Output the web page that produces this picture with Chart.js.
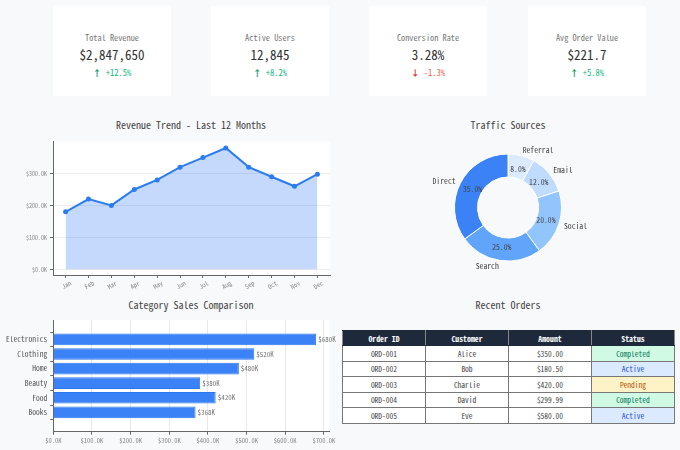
<!DOCTYPE html>
<html>
<head>
<meta charset="utf-8">
<script src="https://cdn.jsdelivr.net/npm/chart.js@4.4.1/dist/chart.umd.min.js"></script>
<style>
  body {
    margin: 0;
    width: 680px;
    height: 450px;
    position: relative;
    overflow: hidden;
    background: #f8f9fa;
    font-family: "Noto Sans Mono CJK SC", "DejaVu Sans Mono", monospace;
  }
  .card {
    position: absolute;
    top: 6px;
    width: 118px;
    height: 90px;
    background: #fff;
    text-align: center;
  }
  .card div { position: absolute; left: 0; right: 0; line-height: 1; white-space: nowrap; }
  .card .label { top: 27px; font-size: 8.3px; color: #777; }
  .card .value { top: 42px; font-size: 13px; color: #333; }
  .card .change { top: 62px; font-size: 8.5px; }
  .up { color: #10b981; }
  .up b { color: #059669; }
  .down { color: #e8644a; }
  .down b { color: #dc2626; }
  .title {
    position: absolute;
    width: 300px;
    text-align: center;
    font-size: 10px;
    line-height: 10px;
    color: #444;
  }
  canvas { position: absolute; }
  #orders {
    position: absolute;
    left: 342px;
    top: 330px;
    width: 333px;
    border-collapse: collapse;
    table-layout: fixed;
    font-size: 7.5px;
    text-align: center;
    background: #fff;
  }
  #orders th, #orders td { border: 1px solid #777; padding: 0; }
  #orders th { height: 14px; background: #1e293b; color: #fff; font-weight: bold; font-size: 7.8px; border-color: #1e293b #888; }
  #orders td { height: 14.5px; color: #444; }
</style>
</head>
<body>

<div class="title" style="left:41px;top:120px">Revenue Trend - Last 12 Months</div>
<div class="title" style="left:358px;top:120px">Traffic Sources</div>
<div class="title" style="left:41px;top:300px">Category Sales Comparison</div>
<div class="title" style="left:358px;top:300px">Recent Orders</div>

<canvas id="trend" width="340" height="165" style="left:0;top:135px;width:340px;height:165px"></canvas>
<canvas id="traffic" width="220" height="155" style="left:398px;top:130px;width:220px;height:155px"></canvas>
<canvas id="category" width="340" height="140" style="left:0;top:310px;width:340px;height:140px"></canvas>
<table id="orders"></table>

<script>
// KPI cards
const kpiLabels = ['Total Revenue', 'Active Users', 'Conversion Rate', 'Avg Order Value'];
const kpiValues = ['$2,847,650', '12,845', '3.28%', '$221.7'];
const kpiChanges = [12.5, 8.2, -1.3, 5.8];
const kpiLefts = [53, 211, 369, 528];

// revenue trend
const months = ['Jan', 'Feb', 'Mar', 'Apr', 'May', 'Jun', 'Jul', 'Aug', 'Sep', 'Oct', 'Nov', 'Dec'];
const revenue = [180000, 220000, 200000, 250000, 280000, 320000, 350000, 380000, 320000, 290000, 260000, 298000];
const revenueTicks = [0, 100000, 200000, 300000];

// traffic sources
const sources = ['Direct', 'Search', 'Social', 'Email', 'Referral'];
const sourceShares = [35, 25, 20, 12, 8];
const sourceColors = ['#3b82f6', '#60a5fa', '#93c5fd', '#bfdbfe', '#dbeafe'];

// category sales
const categories = ['Electronics', 'Clothing', 'Home', 'Beauty', 'Food', 'Books'];
const sales = [680000, 520000, 480000, 380000, 420000, 368000];
const salesTicks = [0, 100000, 200000, 300000, 400000, 500000, 600000, 700000];

// recent orders
const tableHeaders = ['Order ID', 'Customer', 'Amount', 'Status'];
const orderIds = ['ORD-001', 'ORD-002', 'ORD-003', 'ORD-004', 'ORD-005'];
const customers = ['Alice', 'Bob', 'Charlie', 'David', 'Eve'];
const amounts = ['$350.00', '$180.50', '$420.00', '$299.99', '$580.00'];
const statuses = ['Completed', 'Active', 'Pending', 'Completed', 'Active'];
const statusStyles = {
  Completed: { bg: '#d1fae5', fg: '#047857' },
  Active: { bg: '#dbeafe', fg: '#1d4ed8' },
  Pending: { bg: '#fef3c7', fg: '#b45309' },
};

const FONT = '"Noto Sans Mono CJK SC", "DejaVu Sans Mono", monospace';
Chart.defaults.font.family = FONT;
Chart.defaults.animation = false;
Chart.defaults.plugins.legend.display = false;
Chart.defaults.plugins.tooltip.enabled = false;

kpiLabels.forEach((label, i) => {
  const card = document.createElement('div');
  card.className = 'card';
  card.style.left = `${kpiLefts[i]}px`;
  const up = kpiChanges[i] >= 0;
  card.innerHTML = `<div class="label">${label}</div>`
    + `<div class="value">${kpiValues[i]}</div>`
    + `<div class="change ${up ? 'up' : 'down'}"><b>${up ? '↑' : '↓'}</b> ${up ? '+' : ''}${kpiChanges[i]}%</div>`;
  document.body.appendChild(card);
});

const whiteArea = {
  id: 'whiteArea',
  beforeDraw(chart) {
    const { ctx, chartArea: a } = chart;
    ctx.save();
    ctx.fillStyle = '#fff';
    ctx.fillRect(a.left, a.top, a.right - a.left, a.bottom - a.top);
    ctx.restore();
  },
};

const kLabel = (v) => `$${(v / 1000).toFixed(1)}K`;

new Chart(document.getElementById('trend'), {
  type: 'line',
  data: {
    datasets: [{
      data: months.map((m, i) => ({ x: i, y: revenue[i] })),
      borderColor: '#2b7cf0',
      backgroundColor: 'rgba(59,130,246,0.3)',
      borderWidth: 2,
      fill: 'origin',
      tension: 0,
      pointRadius: 2.5,
      pointBackgroundColor: '#2b7cf0',
      pointBorderWidth: 0,
    }],
  },
  options: {
    responsive: false,
    layout: { padding: { top: 5, right: 10, left: 0, bottom: 0 } },
    scales: {
      x: {
        type: 'linear',
        min: -0.55,
        max: 11.55,
        afterFit: (s) => { s.height = 25; },
        afterBuildTicks: (s) => { s.ticks = months.map((m, i) => ({ value: i })); },
        ticks: {
          autoSkip: false,
          minRotation: 30,
          maxRotation: 30,
          labelOffset: 5,
          padding: 1,
          color: '#888',
          font: { size: 6.5 },
          callback: (v) => months[v],
        },
        grid: { drawOnChartArea: false, tickLength: 3, tickColor: '#666' },
        border: { color: '#666' },
      },
      y: {
        min: -18000,
        max: 400000,
        afterFit: (s) => { s.width = 53; },
        afterBuildTicks: (s) => { s.ticks = revenueTicks.map((v) => ({ value: v })); },
        ticks: { color: '#888', font: { size: 6 }, padding: 3, callback: kLabel },
        grid: { color: '#ececec', tickLength: 3, tickColor: '#666' },
        border: { color: '#666' },
      },
    },
  },
  plugins: [whiteArea],
});

const sliceLabels = {
  id: 'sliceLabels',
  afterDatasetsDraw(chart) {
    const { ctx } = chart;
    const shown = chart.data.labels;
    const shares = chart.data.datasets[0].data;
    ctx.save();
    ctx.fillStyle = '#444';
    ctx.textBaseline = 'middle';
    ctx.font = `7.7px ${FONT}`;
    chart.getDatasetMeta(0).data.forEach((arc, i) => {
      const mid = (arc.startAngle + arc.endAngle) / 2;
      const r = arc.outerRadius;
      const c = Math.cos(mid);
      const s = Math.sin(mid);
      ctx.textAlign = c >= 0 ? 'left' : 'right';
      ctx.fillText(shown[i], arc.x + c * r * 1.1, arc.y + s * r * 1.1);
      ctx.textAlign = 'center';
      ctx.fillText(`${shares[i].toFixed(1)}%`, arc.x + c * r * 0.745, arc.y + s * r * 0.745);
    });
    ctx.restore();
  },
};

// matplotlib draws counter-clockwise, Chart.js clockwise: reverse the order
new Chart(document.getElementById('traffic'), {
  type: 'doughnut',
  data: {
    labels: [...sources].reverse(),
    datasets: [{
      data: [...sourceShares].reverse(),
      backgroundColor: [...sourceColors].reverse(),
      borderColor: '#fff',
      borderWidth: 1,
    }],
  },
  options: {
    responsive: false,
    cutout: '57%',
    layout: { padding: 23.5 },
  },
  plugins: [sliceLabels],
});

const barValues = {
  id: 'barValues',
  afterDatasetsDraw(chart) {
    const { ctx } = chart;
    ctx.save();
    ctx.fillStyle = '#777';
    ctx.font = `7px ${FONT}`;
    ctx.textAlign = 'left';
    ctx.textBaseline = 'middle';
    chart.getDatasetMeta(0).data.forEach((bar, i) => {
      ctx.fillText(`$${sales[i] / 1000}K`, bar.x + 2, bar.y);
    });
    ctx.restore();
  },
};

new Chart(document.getElementById('category'), {
  type: 'bar',
  data: {
    datasets: [{
      data: categories.map((c, i) => ({ x: sales[i], y: i })),
      backgroundColor: '#3b82f6',
      borderColor: '#2b76ec',
      borderWidth: 1,
      barPercentage: 0.8,
      categoryPercentage: 1,
    }],
  },
  options: {
    responsive: false,
    indexAxis: 'y',
    layout: { padding: { top: 10, right: 10.7, left: 0, bottom: 0 } },
    scales: {
      x: {
        min: 0,
        max: 714000,
        afterFit: (s) => { s.height = 18.3; },
        afterBuildTicks: (s) => { s.ticks = salesTicks.map((v) => ({ value: v })); },
        ticks: { color: '#888', font: { size: 6.5 }, padding: 2, maxRotation: 0, callback: kLabel },
        grid: { color: '#e8e8e8', tickLength: 3, tickColor: '#666' },
        border: { color: '#666' },
      },
      y: {
        type: 'linear',
        min: -0.69,
        max: 5.69,
        reverse: true,
        afterFit: (s) => { s.width = 53.3; },
        afterBuildTicks: (s) => { s.ticks = categories.map((c, i) => ({ value: i })); },
        ticks: { color: '#555', font: { size: 7.5 }, padding: 3, callback: (v) => categories[v] },
        grid: { drawOnChartArea: false, tickLength: 3, tickColor: '#666' },
        border: { color: '#666' },
      },
    },
  },
  plugins: [whiteArea, barValues],
});

const table = document.getElementById('orders');
table.innerHTML = `<tr>${tableHeaders.map((h) => `<th>${h}</th>`).join('')}</tr>`
  + orderIds.map((id, i) => {
    const st = statusStyles[statuses[i]];
    return `<tr><td>${id}</td><td>${customers[i]}</td><td>${amounts[i]}</td>`
      + `<td style="background:${st.bg};color:${st.fg}">${statuses[i]}</td></tr>`;
  }).join('');
</script>
</body>
</html>
